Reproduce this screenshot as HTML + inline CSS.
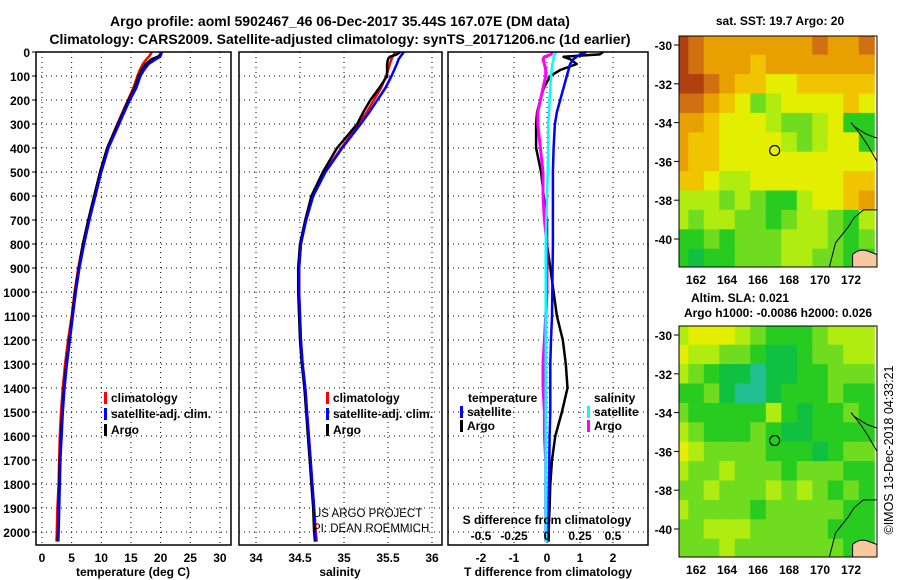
<!DOCTYPE html>
<html><head><meta charset="utf-8"><style>
body{margin:0;background:#fff}
svg{display:block;font-family:"Liberation Sans",sans-serif}
text{font-weight:bold;font-size:12px}
</style></head><body>
<svg id="s" width="900" height="580" viewBox="0 0 900 580">
<rect width="900" height="580" fill="#fff"/>
<text x="340" y="26" text-anchor="middle" style="font-size:14px">Argo profile: aoml 5902467_46 06-Dec-2017 35.44S 167.07E (DM data)</text>
<text x="340" y="44" text-anchor="middle" style="font-size:14px">Climatology: CARS2009. Satellite-adjusted climatology: synTS_20171206.nc (1d earlier)</text>
<g id="g"></g>
</svg>
<script>
const depths=[0,10,20,30,50,75,100,150,200,250,300,400,500,600,700,800,900,1000,1100,1200,1300,1400,1500,1600,1700,1800,1900,2000,2040];
const tArgo=[20,20,19.5,18.5,17.5,16.8,16.3,15.6,14.6,13.7,12.8,11,9.8,8.8,7.8,6.9,6.2,5.6,5.1,4.6,4.1,3.7,3.4,3.2,3.0,2.9,2.8,2.7,2.65];
const tClim=[18.5,18.3,18.0,17.6,17.0,16.5,16.1,15.4,14.5,13.6,12.7,11,9.8,8.8,7.8,6.9,6.1,5.5,5.0,4.4,3.9,3.5,3.2,3.0,2.9,2.8,2.6,2.5,2.45];
const tSat=[20.2,20.1,19.9,19.2,18.0,17.2,16.6,15.9,14.8,13.9,13.0,11.2,10,9,8,7.1,6.3,5.7,5.2,4.7,4.2,3.8,3.5,3.3,3.1,3.0,2.9,2.8,2.75];
const sArgo=[35.64,35.6,35.52,35.5,35.49,35.49,35.49,35.4,35.3,35.22,35.15,34.92,34.76,34.63,34.56,34.5,34.48,34.48,34.49,34.5,34.52,34.55,34.57,34.59,34.61,34.63,34.65,34.66,34.67];
const sClim=[35.58,35.57,35.55,35.54,35.52,35.5,35.48,35.42,35.34,35.26,35.17,34.97,34.78,34.64,34.56,34.51,34.49,34.49,34.5,34.51,34.53,34.56,34.58,34.6,34.62,34.64,34.66,34.68,34.69];
const sSat=[35.68,35.66,35.64,35.62,35.6,35.57,35.54,35.47,35.38,35.29,35.19,34.98,34.79,34.65,34.57,34.51,34.49,34.49,34.5,34.51,34.53,34.56,34.58,34.6,34.62,34.64,34.66,34.67,34.68];
const dtArgo=[1.7,1.6,0.5,0.7,0.9,0.4,0.1,-0.1,-0.2,-0.3,-0.33,-0.33,-0.18,-0.1,0,0,0.1,0.2,0.3,0.48,0.57,0.62,0.45,0.25,0.15,0.1,0.08,0.05,0.05];
const dtSat=[1.2,1.0,0.9,0.8,0.7,0.65,0.6,0.5,0.4,0.3,0.24,0.2,0.18,0.18,0.18,0.18,0.17,0.16,0.15,0.12,0.1,0.1,0.1,0.08,0.07,0.06,0.05,0.05,0.05];
const dsArgo=[0.04,0.03,-0.02,-0.03,-0.02,-0.01,-0.01,-0.03,-0.05,-0.07,-0.07,-0.05,-0.03,-0.03,-0.02,0,0,0,-0.01,-0.02,-0.03,-0.03,-0.02,-0.02,-0.01,-0.01,-0.01,-0.01,-0.01];
const dsSat=[0.07,0.06,0.05,0.05,0.04,0.035,0.03,0.025,0.02,0.015,0.01,0.01,0.005,0,-0.005,-0.01,-0.01,-0.01,-0.01,-0.01,-0.01,-0.01,-0.01,-0.01,-0.01,-0.01,-0.01,-0.01,-0.01];
const depthTicks=[0,100,200,300,400,500,600,700,800,900,1000,1100,1200,1300,1400,1500,1600,1700,1800,1900,2000];
const tTicks=[0,5,10,15,20,25,30];
const sTicks=[34,34.5,35,35.5,36];
const sTickLabels=["34","34.5","35","35.5","36"];
const dtTicks=[-2,-1,0,1,2];
const dsTicks=[-0.5,-0.25,0,0.25,0.5];
const dsTickLabels=["-0.5","-0.25","0","0.25","0.5"];
const lonTicks=[162,164,166,168,170,172];
const latTicks=[-30,-32,-34,-36,-38,-40];
const sstGrid=[
[10,9,8,8,8,8,8,8,8,9,8,8,9],
[10,9,8,8,8,7,8,8,8,8,8,8,8],
[10,10,9,8,7,7,6,6,7,7,7,7,7],
[9,9,8,7,6,4,5,6,6,6,6,7,6],
[8,8,7,6,6,6,5,4,4,5,6,3,3],
[8,7,7,6,6,6,6,5,4,5,6,6,3],
[8,7,7,6,6,6,6,6,6,6,6,6,6],
[7,7,6,5,5,6,6,6,6,6,6,7,7],
[5,5,5,4,5,4,3,3,5,6,6,7,8],
[5,4,5,5,4,4,3,4,5,5,4,3,5],
[3,3,4,3,4,4,4,5,5,5,4,3,4],
[3,2,3,3,4,4,4,5,5,4,4,3,3]];
const slaGrid=[
[5,6,6,6,5,4,3,3,3,4,5,5,5],
[6,5,5,4,4,3,2,2,3,4,4,5,5],
[5,4,3,2,2,1,2,2,3,3,4,4,4],
[3,3,4,2,1,1,2,3,3,3,4,3,3],
[4,3,3,3,3,3,5,3,2,3,3,4,3],
[5,4,3,3,3,4,3,2,2,3,3,3,3],
[6,5,4,4,4,4,3,3,3,2,3,4,4],
[5,4,4,5,4,4,4,3,4,4,4,3,3],
[4,4,5,4,4,4,5,4,5,4,3,4,3],
[5,4,4,4,4,3,4,4,4,4,4,3,3],
[4,4,5,5,5,4,4,4,4,4,3,3,3],
[4,4,4,5,4,4,4,4,4,4,4,3,3]];
const floatLon=167.07, floatLat=-35.44;

const NS="http://www.w3.org/2000/svg";
const G=document.getElementById('g');
function mk(t,a,p){const e=document.createElementNS(NS,t);for(const k in a)e.setAttribute(k,a[k]);(p||G).appendChild(e);return e;}
const yD=d=>52+0.24*d;
const PT=45,PB=545;
const panels=[{x0:36,x1:231,f:v=>42+5.93*v},{x0:239,x1:442,f:v=>256+88*(v-34)},{x0:448,x1:648,f:v=>547+33*v}];
const fs=v=>547+132*v;
panels.forEach((p,i)=>{
  depthTicks.forEach(d=>{if(d>0){const l=mk('line',{x1:p.x0,x2:p.x1,y1:yD(d),y2:yD(d),stroke:'#000','stroke-dasharray':'1 4','stroke-width':1});

}});
  const tk=i==0?tTicks:i==1?sTicks:dtTicks;
  tk.forEach(v=>{const x=p.f(v);const l=mk('line',{x1:x,x2:x,y1:PT+7,y2:PB,stroke:'#000','stroke-dasharray':'1 4','stroke-width':1});

});
});
depthTicks.forEach(d=>{const t=mk('text',{x:30,y:yD(d)+5,'text-anchor':'end'});t.textContent=d;


const l=mk('line',{x1:32,x2:36,y1:yD(d),y2:yD(d),stroke:'#000'});

});
function line(xs,f,col,w,name){const pts=xs.map((v,i)=>f(v).toFixed(1)+','+yD(depths[i]).toFixed(1)).join(' ');
const e=mk('polyline',{points:pts,fill:'none',stroke:col,'stroke-width':w,'stroke-linejoin':'round'});

}
const P=panels;
line(tClim,P[0].f,'#f00',2.5,'temp-climatology-line');
line(tArgo,P[0].f,'#000',2.5,'temp-argo-line');
line(tSat,P[0].f,'#00f',2.5,'temp-satellite-line');
line(sClim,P[1].f,'#f00',2.5,'sal-climatology-line');
line(sArgo,P[1].f,'#000',2.5,'sal-argo-line');
line(sSat,P[1].f,'#00f',2.5,'sal-satellite-line');
line(dtArgo,P[2].f,'#000',2.5,'tdiff-argo-line');
line(dtSat,P[2].f,'#00f',2.5,'tdiff-satellite-line');
line(dsArgo,fs,'#f0f',3,'sdiff-argo-line');
line(dsSat,fs,'#0ff',2.5,'sdiff-satellite-line');
panels.forEach((p,i)=>{const r=mk('rect',{x:p.x0,y:PT+7,width:p.x1-p.x0,height:PB-PT-7,fill:'none',stroke:'#000','stroke-width':1.5});

});
tTicks.forEach(v=>{const t=mk('text',{x:P[0].f(v),y:562,'text-anchor':'middle'});t.textContent=v;

});
sTicks.forEach((v,i)=>{const t=mk('text',{x:P[1].f(v),y:562,'text-anchor':'middle'});t.textContent=sTickLabels[i];

});
dtTicks.forEach(v=>{const t=mk('text',{x:P[2].f(v),y:562,'text-anchor':'middle'});t.textContent=v;

});
dsTicks.forEach((v,i)=>{const t=mk('text',{x:fs(v),y:540,'text-anchor':'middle'});t.textContent=dsTickLabels[i];

});
[[133,'temperature (deg C)','temp-axis-title'],[340,'salinity','sal-axis-title'],[548,'T difference from climatology','tdiff-axis-title']].forEach(a=>{const t=mk('text',{x:a[0],y:576,'text-anchor':'middle'});t.textContent=a[1];

});
{const t=mk('text',{x:547,y:524,'text-anchor':'middle'});t.textContent='S difference from climatology';

}
function leg(x,y,col,txt,name){const r=mk('rect',{x:x,y:y-10,width:3,height:12,fill:col});


const t=mk('text',{x:x+7,y:y});t.textContent=txt;

}
leg(104,402,'#f00','climatology','legend-climatology');
leg(104,418,'#00f','satellite-adj. clim.','legend-satellite');
leg(104,434,'#000','Argo','legend-argo');
leg(326,402,'#f00','climatology','legend-climatology-2');
leg(326,418,'#00f','satellite-adj. clim.','legend-satellite-2');
leg(326,434,'#000','Argo','legend-argo-2');
{const t=mk('text',{x:468,y:402});t.textContent='temperature';

}
{const t=mk('text',{x:594,y:402});t.textContent='salinity';

}
leg(460,416,'#00f','satellite','legend-t-satellite');
leg(460,430,'#000','Argo','legend-t-argo');
leg(587,416,'#0ff','satellite','legend-s-satellite');
leg(587,430,'#f0f','Argo','legend-s-argo');
{const t=mk('text',{x:313,y:517,style:'font-weight:normal;font-size:11.5px'});t.textContent='US ARGO PROJECT';

}
{const t=mk('text',{x:313,y:532,style:'font-weight:normal;font-size:11.5px'});t.textContent='PI: DEAN ROEMMICH';

}
const cols=['#000','#20c090','#10c040','#28cc20','#70dc20','#b0ec10','#e4ee00','#f0c400','#e8a000','#d07010','#b04010'];
function map(top,grid,name){
  const lx=v=>679+15.5*(v-160.9), ly=v=>top+9+19.4*(-30-v);
  const bottom=top+231;
  grid.forEach((row,r)=>row.forEach((v,c)=>{
    const x0=Math.max(679,lx(160.5+c)), x1=Math.min(877,lx(161.5+c));
    const y0=Math.max(top,ly(-29.5-r)), y1=Math.min(bottom,ly(-30.5-r));
    const e=mk('rect',{x:x0,y:y0,width:x1-x0+0.5,height:y1-y0+0.5,fill:cols[v]});
    
    
  }));
  const land=mk('path',{d:`M${lx(172.1)},${bottom} L${lx(172.1)},${ly(-40.8)} Q${lx(172.5)},${ly(-40.5)} ${lx(173)},${ly(-40.6)} L877,${ly(-40.8)} L877,${bottom} Z`,fill:'#f8c8a0',stroke:'#000','stroke-width':1});
  
  
  const c1=mk('path',{d:`M${lx(170.6)},${bottom} L${lx(171)},${ly(-40.2)} L${lx(171.8)},${ly(-39.4)} L${lx(172.2)},${ly(-38.9)} L${lx(172.8)},${ly(-38.5)} L877,${ly(-38.5)}`,fill:'none',stroke:'#000','stroke-width':1});
  
  
  const c2=mk('path',{d:`M${lx(172)},${ly(-34)} L${lx(172.6)},${ly(-34.6)} L${lx(173.1)},${ly(-35.2)} L877,${ly(-36)} M${lx(172.2)},${ly(-34.2)} L${lx(173)},${ly(-34.6)} L877,${ly(-34.8)}`,fill:'none',stroke:'#000','stroke-width':1});
  
  
  const ci=mk('circle',{cx:lx(floatLon),cy:ly(floatLat),r:5,fill:'none',stroke:'#000','stroke-width':1.2});
  
  
  const fr=mk('rect',{x:679,y:top,width:198,height:231,fill:'none',stroke:'#000','stroke-width':1});
  
  
  latTicks.forEach(v=>{const t=mk('text',{x:672,y:ly(v)+5,'text-anchor':'end'});t.textContent=v;
    
    
    const l=mk('line',{x1:674,x2:679,y1:ly(v),y2:ly(v),stroke:'#000'});
    
    });
  lonTicks.forEach(v=>{const t=mk('text',{x:lx(v),y:bottom+17,'text-anchor':'middle'});t.textContent=v;
    
    });
}
map(36,sstGrid,'sst-map');
map(326,slaGrid,'sla-map');
{const t=mk('text',{x:780,y:25,'text-anchor':'middle'});t.textContent='sat. SST: 19.7 Argo: 20';

}
{const t=mk('text',{x:740,y:302,'text-anchor':'middle'});t.textContent='Altim. SLA: 0.021';

}
{const t=mk('text',{x:778,y:317,'text-anchor':'middle'});t.textContent='Argo h1000: -0.0086 h2000: 0.026';

}
{const t=mk('text',{x:0,y:0,'text-anchor':'middle',transform:'translate(893,450) rotate(-90)',style:'font-weight:normal;font-size:12.5px'});t.textContent='©IMOS 13-Dec-2018 04:33:21';

}
</script>
</body></html>
